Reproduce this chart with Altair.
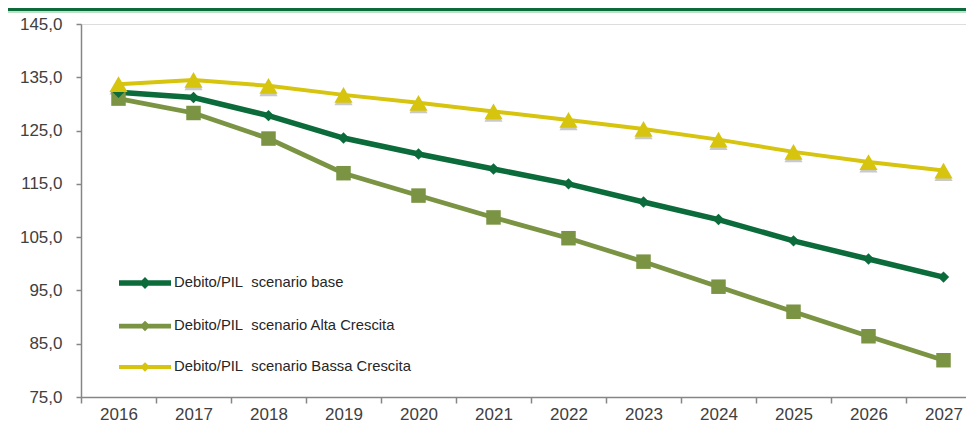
import altair as alt
import pandas as pd

years = list(range(2016, 2028))
series_names = [
    "Debito/PIL\u00a0 scenario base",
    "Debito/PIL\u00a0 scenario Alta Crescita",
    "Debito/PIL\u00a0 scenario Bassa Crescita",
]
base = [132.2, 131.2, 127.8, 123.6, 120.6, 117.8, 115.0, 111.6, 108.3, 104.3, 100.9, 97.5]
alta = [131.0, 128.3, 123.5, 117.0, 112.8, 108.7, 104.8, 100.4, 95.7, 91.0, 86.4, 81.9]
bassa = [133.7, 134.5, 133.4, 131.7, 130.2, 128.6, 127.0, 125.3, 123.3, 121.0, 119.1, 117.5]
y_ticks = [75, 85, 95, 105, 115, 125, 135, 145]

colors = ["#0B6B3A", "#7A9443", "#D6C40E"]
widths = [5.5, 4, 8]
shapes = ["diamond", "square", "triangle-up"]
msizes = [130, 210, 330]

# drawing order: alta, base, bassa (yellow on top)
rows = []
for name, vals in [(series_names[1], alta), (series_names[0], base), (series_names[2], bassa)]:
    for yr, v in zip(years, vals):
        rows.append({"anno": yr, "valore": v, "serie": name})
df = pd.DataFrame(rows)

W, H = 885, 373
PX_PER_YEAR = 75.0
X0 = 2015.5
X1 = X0 + W / PX_PER_YEAR
FONT = "Liberation Sans"
AX_COL = "#868686"

xscale = alt.Scale(domain=[X0, X1], nice=False, zero=False)
yscale = alt.Scale(domain=[75, 145], nice=False, zero=False)
yaxis = alt.Axis(values=y_ticks, labelExpr="replace(format(datum.value, '.1f'), '.', ',')",
                 grid=False, tickSize=5, labelPadding=14, labelFontSize=17, labelFont=FONT,
                 labelColor="#404040", domainColor=AX_COL, tickColor=AX_COL, domainWidth=1.5,
                 tickWidth=1.5, title=None)
xaxis_ticks = alt.Axis(orient="bottom", values=[X0 + i for i in range(12)], labels=False, grid=False,
                       tickSize=6, domainColor=AX_COL, tickColor=AX_COL, domainWidth=1.5, tickWidth=1.5,
                       title=None)
xaxis_labels = alt.Axis(orient="bottom", values=years, format="d", ticks=False, tickSize=0, domain=False,
                        grid=False, labelPadding=9, labelFontSize=17, labelFont=FONT, labelColor="#404040",
                        title=None, labelFlush=False)

legend = alt.Legend(title=None, orient="none", legendX=67, legendY=246,
                    symbolType="M-4.2,0H1M-1.6,-0.2L-1.4,0L-1.6,0.2L-1.8,0Z", symbolSize=400,
                    labelFontSize=14.8, labelFont=FONT,
                    labelColor="#262626", rowPadding=17.5, labelOffset=0, padding=0, direction="vertical",
                    labelLimit=0)

line = alt.Chart(df).mark_line().encode(
    x=alt.X("anno:Q", scale=xscale, axis=xaxis_ticks),
    y=alt.Y("valore:Q", scale=yscale, axis=yaxis),
    color=alt.Color("serie:N", scale=alt.Scale(domain=series_names, range=colors), legend=legend),
    strokeWidth=alt.StrokeWidth("serie:N", scale=alt.Scale(domain=series_names, range=widths), legend=legend),
)

shadow = alt.Chart(df).transform_filter(
    alt.datum.serie == series_names[2]
).mark_point(filled=True, shape="triangle-up", size=msizes[2], color="#4d4d4d", opacity=0.3, yOffset=2.5).encode(
    x=alt.X("anno:Q", scale=xscale, axis=None),
    y=alt.Y("valore:Q", scale=yscale, axis=yaxis),
)


def point_layer(i, axis):
    return alt.Chart(df).transform_filter(
        alt.datum.serie == series_names[i]
    ).mark_point(filled=True, opacity=1, shape=shapes[i], size=msizes[i], color=colors[i]).encode(
        x=alt.X("anno:Q", scale=xscale, axis=axis),
        y=alt.Y("valore:Q", scale=yscale, axis=yaxis),
    )


pts_alta = point_layer(1, xaxis_labels)
pts_base = point_layer(0, None)
pts_bassa = point_layer(2, None)

top = pd.DataFrame({"k": [0]})
bar_dark = alt.Chart(top).mark_rule(color="#0B6B3A", strokeWidth=3).encode(
    x=alt.value(-73), x2=alt.value(W), y=alt.value(-14.5))
bar_light = alt.Chart(top).mark_rule(color="#A9D4B6", strokeWidth=1.5).encode(
    x=alt.value(-73), x2=alt.value(W), y=alt.value(-12))

chart = alt.layer(bar_dark, bar_light, line, shadow, pts_alta, pts_base, pts_bassa).resolve_axis(
    x="independent"
).properties(
    width=W, height=H,
    padding={"left": 73, "top": 16, "right": 0, "bottom": 25},
    autosize=alt.AutoSizeParams(type="none"),
).configure_view(stroke=None).configure(background="white")

chart.save("out.html", embed_options={"renderer": "svg", "actions": False})
